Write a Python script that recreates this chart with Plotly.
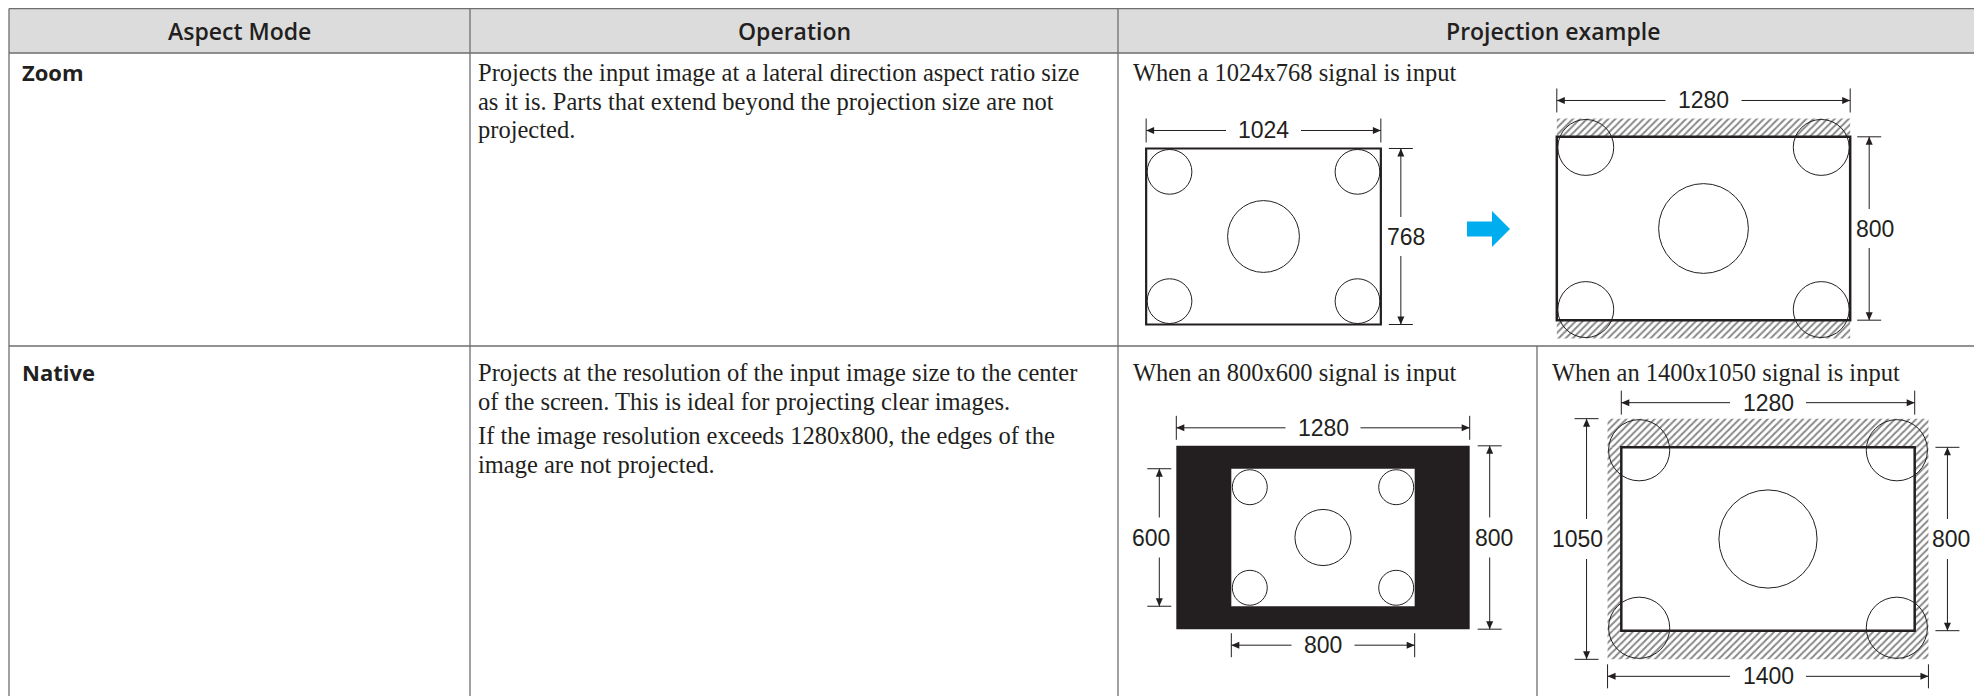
import plotly.graph_objects as go

# ---------------- data ----------------
headers = ["Aspect Mode", "Operation", "Projection example"]
modes = ["Zoom", "Native"]
operations = [
    ["Projects the input image at a lateral direction aspect ratio size",
     "as it is. Parts that extend beyond the projection size are not",
     "projected."],
    ["Projects at the resolution of the input image size to the center",
     "of the screen. This is ideal for projecting clear images.",
     "If the image resolution exceeds 1280x800, the edges of the",
     "image are not projected."],
]
captions = ["When a 1024x768 signal is input",
            "When an 800x600 signal is input",
            "When an 1400x1050 signal is input"]
signal_w = [1024, 800, 1400]
signal_h = [768, 600, 1050]
panel_w, panel_h = 1280, 800

# ---------------- styles / layout ----------------
W, H = 1982, 696
S = 0.2292                 # px per signal pixel
CORNER_FRAC = 0.0953       # corner circle radius / image width
CENTER_FRAC = 0.153        # centre circle radius / image width
LINE = "#6d6e71"
INK = "#231f20"
HEAD_BG = "#dcdcdc"
SERIF = "Liberation Serif"
SANS = "Open Sans"
DIMFONT = "Liberation Sans"
BODY = 24.5
DIMSIZE = 23

xL, xC1, xC2, xR = 1, 462, 1110, 1981
xSub = 1529
yT, yH, yR1 = 0.5, 45, 338

shapes = []
annots = []
traces = []


def rect(x0, y0, x1, y1, fill=None, lc=INK, lw=1.0):
    d = dict(type="rect", xref="x", yref="y", x0=x0, y0=y0, x1=x1, y1=y1,
             line=dict(color=lc, width=lw) if lw > 0 else dict(width=0),
             fillcolor=fill if fill else "rgba(0,0,0,0)")
    shapes.append(d)


def line(x0, y0, x1, y1, lc=INK, lw=1.0):
    shapes.append(dict(type="line", xref="x", yref="y", x0=x0, y0=y0, x1=x1, y1=y1,
                       line=dict(color=lc, width=lw)))


def path(pts, fill, lw=0):
    p = "M " + " L ".join(f"{x:.2f},{y:.2f}" for x, y in pts) + " Z"
    shapes.append(dict(type="path", xref="x", yref="y", path=p, fillcolor=fill,
                       line=dict(width=lw, color=fill)))


def circle(cx, cy, r, lw=1.0):
    shapes.append(dict(type="circle", xref="x", yref="y", x0=cx - r, x1=cx + r,
                       y0=cy - r, y1=cy + r, line=dict(color=INK, width=lw),
                       fillcolor="rgba(0,0,0,0)"))


def text(x, y, s, font, size, weight=400, xa="left", color=INK):
    annots.append(dict(x=x, y=y, xref="x", yref="y", text=s, showarrow=False,
                       xanchor=xa, yanchor="middle", borderpad=0,
                       font=dict(family=font, size=size, color=color, weight=weight)))


def hatch(x0, y0, x1, y1):
    traces.append(go.Scatter(x=[x0, x1, x1, x0, x0], y=[y0, y0, y1, y1, y0],
                             mode="lines", fill="toself", line=dict(width=0),
                             fillcolor="white", hoverinfo="skip", showlegend=False,
                             fillpattern=dict(shape="/", fgcolor="#111111", bgcolor="white",
                                              size=5, solidity=0.4)))


AH_L, AH_W = 8, 3.5  # arrowhead length / half width
TICK = 12


def hdim(x0, x1, y, label, gap):
    cx = (x0 + x1) / 2
    line(x0, y, cx - gap, y)
    line(cx + gap, y, x1, y)
    line(x0, y - TICK, x0, y + TICK)
    line(x1, y - TICK, x1, y + TICK)
    path([(x0, y), (x0 + AH_L, y - AH_W), (x0 + AH_L, y + AH_W)], INK)
    path([(x1, y), (x1 - AH_L, y - AH_W), (x1 - AH_L, y + AH_W)], INK)
    text(cx, y, label, DIMFONT, DIMSIZE, xa="center")


def vdim(x, y0, y1, label, gap, dx):
    cy = (y0 + y1) / 2
    line(x, y0, x, cy - gap)
    line(x, cy + gap, x, y1)
    line(x - TICK, y0, x + TICK, y0)
    line(x - TICK, y1, x + TICK, y1)
    path([(x, y0), (x - AH_W, y0 + AH_L), (x + AH_W, y0 + AH_L)], INK)
    path([(x, y1), (x - AH_W, y1 - AH_L), (x + AH_W, y1 - AH_L)], INK)
    text(x + dx, cy, label, DIMFONT, DIMSIZE, xa="center")


def pattern_circles(cx, cy, w, h):
    rc = CORNER_FRAC * w
    rm = CENTER_FRAC * w
    l, r, t, b = cx - w / 2, cx + w / 2, cy - h / 2, cy + h / 2
    for px in (l + rc + 1, r - rc - 1):
        for py in (t + rc + 1, b - rc - 1):
            circle(px, py, rc)
    circle(cx, cy, rm)


# ---------------- table ----------------
rect(xL, yT, xR, yH, fill=HEAD_BG, lw=0)
for (x0, x1), hdr in zip([(xL, xC1), (xC1, xC2), (xC2, xR)], headers):
    text((x0 + x1) / 2, 22.5, hdr, SANS, 23, weight=600, xa="center")

# body text
row_lines = [[64, 93, 121], [364, 393, 427, 456]]
for i, m in enumerate(modes):
    text(xL + 12, row_lines[i][0], m, SANS, 22, weight=700)
    for j, ln in enumerate(operations[i]):
        text(xC1 + 7, row_lines[i][j], ln, SERIF, BODY)

text(xC2 + 14, row_lines[0][0], captions[0], SERIF, BODY)
text(xC2 + 14, row_lines[1][0], captions[1], SERIF, BODY)
text(xSub + 14, row_lines[1][0], captions[2], SERIF, BODY)

# ---------------- diagram 1 : 1024x768 input ----------------
c1 = (1255.5, 228.5)
w1, h1 = signal_w[0] * S, signal_h[0] * S
l1, t1 = c1[0] - w1 / 2, c1[1] - h1 / 2
rect(l1, t1, l1 + w1, t1 + h1, fill="white", lw=2.2)
pattern_circles(c1[0], c1[1], w1, h1)
hdim(l1, l1 + w1, t1 - 18, str(signal_w[0]), 37.5)
vdim(l1 + w1 + 20, t1, t1 + h1, str(signal_h[0]), 19.5, 5)

# blue arrow
ax, ay = 1459, 221
path([(ax, ay - 7.5), (ax + 25, ay - 7.5), (ax + 25, ay - 18), (ax + 43, ay),
      (ax + 25, ay + 18), (ax + 25, ay + 7.5), (ax, ay + 7.5)], "#00aeef")

# ---------------- diagram 2 : zoomed to 1280 wide ----------------
c2 = (1695.5, 220.5)
zf = panel_w / signal_w[0]
iw2, ih2 = signal_w[0] * zf * S, signal_h[0] * zf * S
pw, ph = panel_w * S, panel_h * S
il2, it2 = c2[0] - iw2 / 2, c2[1] - ih2 / 2
pl2, pt2 = c2[0] - pw / 2, c2[1] - ph / 2
hatch(il2, it2, il2 + iw2, pt2)
hatch(il2, pt2 + ph, il2 + iw2, it2 + ih2)
rect(pl2, pt2, pl2 + pw, pt2 + ph, lw=2.5)
pattern_circles(c2[0], c2[1], iw2, ih2)
hdim(pl2, pl2 + pw, it2 - 18, str(panel_w), 38)
vdim(pl2 + pw + 19, pt2, pt2 + ph, str(panel_h), 19.5, 6)

# ---------------- diagram 3 : 800x600 native ----------------
c3 = (1315, 529.5)
iw3, ih3 = signal_w[1] * S, signal_h[1] * S
pl3, pt3 = c3[0] - pw / 2, c3[1] - ph / 2
il3, it3 = c3[0] - iw3 / 2, c3[1] - ih3 / 2
rect(pl3, pt3, pl3 + pw, pt3 + ph, fill=INK, lw=0)
rect(il3, it3, il3 + iw3, it3 + ih3, fill="white", lw=0)
pattern_circles(c3[0], c3[1], iw3, ih3)
hdim(pl3, pl3 + pw, pt3 - 18, str(panel_w), 37.5)
vdim(pl3 + pw + 20, pt3, pt3 + ph, str(panel_h), 20, 4)
vdim(pl3 - 17, it3, it3 + ih3, str(signal_h[1]), 20, -8)
hdim(il3, il3 + iw3, pt3 + ph + 16, str(signal_w[1]), 31.5)

# ---------------- diagram 4 : 1400x1050 native ----------------
c4 = (1760, 531)
iw4, ih4 = signal_w[2] * S, signal_h[2] * S
il4, it4 = c4[0] - iw4 / 2, c4[1] - ih4 / 2
pl4, pt4 = c4[0] - pw / 2, c4[1] - ph / 2
hatch(il4, it4, il4 + iw4, pt4)
hatch(il4, pt4 + ph, il4 + iw4, it4 + ih4)
hatch(il4, pt4, pl4, pt4 + ph)
hatch(pl4 + pw, pt4, il4 + iw4, pt4 + ph)
rect(pl4, pt4, pl4 + pw, pt4 + ph, lw=2.5)
pattern_circles(c4[0], c4[1], iw4, ih4)
hdim(pl4, pl4 + pw, it4 - 16, str(panel_w), 38)
vdim(il4 - 21, it4, it4 + ih4, str(signal_h[2]), 20, -9)
vdim(il4 + iw4 + 19, pt4, pt4 + ph, str(panel_h), 20, 4)
hdim(il4, il4 + iw4, it4 + ih4 + 17, str(signal_w[2]), 38)

# ---------------- table grid lines ----------------
line(xL, yT, xR, yT, LINE, 1.3)
line(xL, yH, xR, yH, LINE, 1.3)
line(xL, yR1, xR, yR1, LINE, 1.3)
for x in (xL, xC1, xC2, xR):
    line(x, yT, x, H + 5, LINE, 1.3)
line(xSub, yR1, xSub, H + 5, LINE, 1.3)

fig = go.Figure(data=traces)
fig.update_layout(
    width=W, height=H, margin=dict(l=0, r=0, t=0, b=0),
    paper_bgcolor="white", plot_bgcolor="white",
    xaxis=dict(range=[0, W], visible=False, fixedrange=True),
    yaxis=dict(range=[H, 0], visible=False, fixedrange=True),
    shapes=shapes, annotations=annots, showlegend=False,
)
fig.write_html("out.html", config={"displayModeBar": False})
